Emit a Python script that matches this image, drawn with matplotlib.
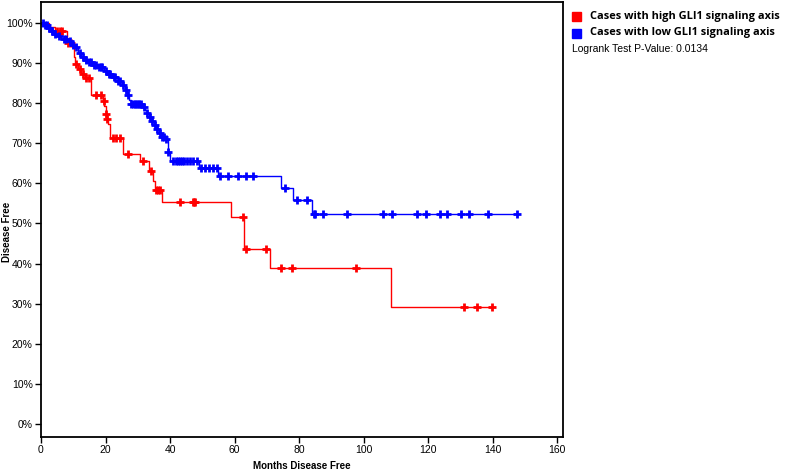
import numpy as np
import matplotlib
matplotlib.use("Agg")
import matplotlib.pyplot as plt

# step points (months, % disease free after the step)
high_t = [0, 2.5, 4.5, 8, 9.5, 10.3, 10.6, 11.5, 12.5, 13.5, 15.6, 19.2, 19.6, 20.0, 20.4,
          20.8, 21.3, 25.5, 30.7, 33.5, 34.6, 35.2, 37.4, 58.8, 63.0, 71.0, 108.5]
high_s = [100, 99, 98, 95, 94.3, 91.5, 89.8, 88.5, 87.3, 86.2, 82, 80.6, 79.3, 77.3, 76,
          74.8, 71.2, 67.3, 65.5, 63.1, 60.6, 58.3, 55.3, 51.6, 43.7, 38.9, 29.1]
high_cens = [5, 5.8, 6.5, 8.5, 9.2, 11, 12, 13, 14, 15, 17, 18.6, 19.4, 20.1, 20.6, 22.3,
             23.3, 24.5, 27.1, 31.7, 34, 35.5, 36.2, 36.9, 43.1, 47, 47.4, 47.8, 62.6,
             63.4, 69.8, 74.3, 77.8, 97.7, 131, 135, 139.7]

low_t = [0, 1, 2, 3, 3.8, 5, 6.3, 8.4, 9.5, 10.4, 11.5, 12.5, 13.5, 14.6, 16, 17.7, 19.5,
         20.8, 22, 23.9, 25, 26, 26.6, 27.2, 27.8, 31.6, 32.3, 32.8, 33.5, 34.3, 35, 35.9,
         36.5, 37.3, 38.4, 39.3, 40, 49, 55, 74.3, 78.2, 84.1]
low_s = [100, 99.5, 98.8, 98, 97.2, 96.6, 96, 95.5, 94.6, 93.9, 92.6, 91.5, 90.8, 90.2,
         89.5, 88.9, 88, 87.3, 86.5, 85.6, 84.5, 83.3, 82, 80.8, 79.8, 79.0, 78.2, 77.5,
         76.6, 75.6, 74.6, 73.5, 72.5, 71.6, 71, 67.8, 65.5, 63.9, 61.8, 58.8, 55.8, 52.3]
low_cens = [0.5, 1.2, 1.8, 2.5, 3.3, 4.2, 5.5, 7, 7.8, 9, 10, 11, 12, 13, 14, 15, 15.5,
            16.5, 17, 18, 18.6, 19, 20, 21, 21.5, 22.5, 23, 24, 24.5, 25.5, 26.3, 27, 28,
            28.5, 29, 29.5, 30, 30.5, 31, 32, 33, 33.8, 34.5, 35.3, 36, 36.8, 37.5, 38,
            38.8, 39.5, 40.8, 41.8, 42.5, 43.1, 43.7, 44.3, 45.3, 46.2, 47.1, 48.5, 49.5,
            50.9, 52.1, 53.4, 54.6, 55.5, 57.9, 61.2, 63.6, 65.6, 75.6, 79.3, 82.4, 84.7,
            85, 87.5, 94.8, 106.1, 108.7, 116.5, 119.2, 123.7, 125.8, 130.1, 132.6, 138.7,
            147.5]

labels = ["Cases with high GLI1 signaling axis", "Cases with low GLI1 signaling axis"]
pvalue = "0.0134"


def step_value(t, s, x):
    idx = np.searchsorted(t, x, side="right") - 1
    return np.array(s)[idx]


fig = plt.figure(figsize=(7.85, 4.72), dpi=100)
ax = fig.add_axes([0.0522, 0.0742, 0.6650, 0.9216])

for t, s, cens, col in [(high_t, high_s, high_cens, "#ff0000"),
                        (low_t, low_s, low_cens, "#0000ff")]:
    end = max(cens)
    xs = list(t) + [end]
    ys = list(s) + [s[-1]]
    ax.step(xs, ys, where="post", color=col, lw=1.0)
    ax.plot(cens, step_value(t, s, cens), ls="none", marker="+", ms=5.5,
            mew=2.0, color=col)

ax.set_xlim(0, 161.8)
ax.set_ylim(-3.2, 105.2)
ax.set_xticks(range(0, 161, 20))
ax.set_yticks(range(0, 101, 10))
ax.set_yticklabels([f"{v}%" for v in range(0, 101, 10)])
for sp in ax.spines.values():
    sp.set_linewidth(1.3)
ax.tick_params(direction="out", length=4, width=1, labelsize=7.5, pad=2)
for lab in ax.get_xticklabels() + ax.get_yticklabels():
    lab.set_family("Liberation Sans")

fig.text(0.385, 0.002, "Months Disease Free", ha="center", va="bottom",
         fontsize=7, fontweight="bold", family="Liberation Sans")
fig.text(0.002, 0.508, "Disease Free", ha="left", va="center", rotation=90,
         fontsize=7, fontweight="bold", family="Liberation Sans")

# legend
for i, (lab, col) in enumerate(zip(labels, ["#ff0000", "#0000ff"])):
    y = 1 - (16 + 17 * i) / 472
    fig.patches.append(plt.Rectangle((0.729, y - 0.011), 0.0115, 0.019,
                                     transform=fig.transFigure, color=col))
    fig.text(0.752, y, lab, ha="left", va="center", fontsize=7.9,
             fontweight="bold", family="Open Sans")
fig.text(0.729, 1 - 49 / 472, f"Logrank Test P-Value: {pvalue}", ha="left",
         va="center", fontsize=7.5, family="Liberation Sans")

fig.savefig("out.png", dpi=100)
